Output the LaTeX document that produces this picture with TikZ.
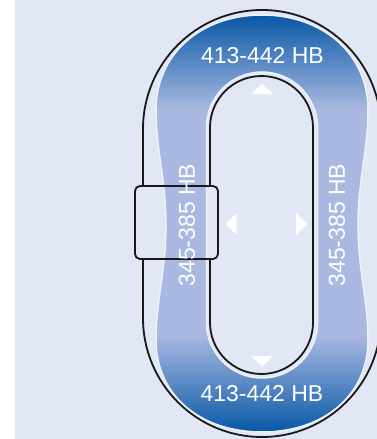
\documentclass[tikz,border=0pt]{standalone}
\usepackage{fontspec}
\setmainfont{Liberation Sans}
\definecolor{panelbg}{RGB}{225,231,245}
\definecolor{banddark}{RGB}{8,88,166}
\definecolor{bandlight}{RGB}{170,185,225}
\definecolor{bandedge}{RGB}{238,241,250}
\pgfdeclareverticalshading{bandshade}{100bp}{color(0bp)=(banddark); color(25bp)=(banddark); color(36.6bp)=(bandlight); color(63.6bp)=(bandlight); color(75bp)=(banddark); color(100bp)=(banddark)}
\tikzset{
  hblabel/.style={text=white, font=\fontsize{23}{23}\selectfont, inner sep=0pt},
  tipmark/.style={fill=white},
  ringline/.style={draw=black!90, line width=1.8pt}
}
\begin{document}
\begin{tikzpicture}[x=1pt, y=-1pt]%% start picture

    \useasboundingbox (0,0) rectangle (377,439);
    \clip (0,0) rectangle (377,439);
    \fill[panelbg] (15,0) rectangle (377,439);

        % outer and inner ring lines
        \draw[ringline, rounded corners=119pt] (143,10) rectangle (381,437);
        \draw[ringline, rounded corners=51.5pt] (210,76) rectangle (313,374);

        % box on the left side
        \fill[panelbg, rounded corners=5pt] (135,186) rectangle (218,259);

        % blue band
        \path[shade, shading=bandshade, even odd rule, draw=bandedge, line width=1.5pt]
            [rounded corners=55.5pt] (206.5,72) rectangle (317.5,378)
            [sharp corners] (262,15) .. controls (200,15) and (156,55) .. (156,110)
            .. controls (156,150) and (166,180) .. (166,225)
            .. controls (166,270) and (156,300) .. (156,340)
            .. controls (156,395) and (200,432) .. (262,432)
            .. controls (324,432) and (368,395) .. (368,340)
            .. controls (368,300) and (358,270) .. (358,225)
            .. controls (358,180) and (368,150) .. (368,110)
            .. controls (368,55) and (324,15) .. (262,15) -- cycle;

        \draw[ringline, rounded corners=5pt] (135,186) rectangle (218,259);

        % direction marks
        \fill[tipmark] (251,94) -- (273,94) -- (262,84) -- cycle;
        \fill[tipmark] (251,356) -- (273,356) -- (262,366.5) -- cycle;
        \fill[tipmark] (236.5,213) -- (236.5,235) -- (225.5,224) -- cycle;
        \fill[tipmark] (296,213) -- (296,235) -- (307,224) -- cycle;

        \node[hblabel] (toplbl) at (262.5,56) {413-442 HB};
        \node[hblabel] (botlbl) at (262,394) {413-442 HB};
        \node[hblabel, rotate=90] (leftlbl) at (187,225) {345-385 HB};
        \node[hblabel, rotate=90] (rightlbl) at (337,225) {345-385 HB};

\end{tikzpicture}
\end{document}
